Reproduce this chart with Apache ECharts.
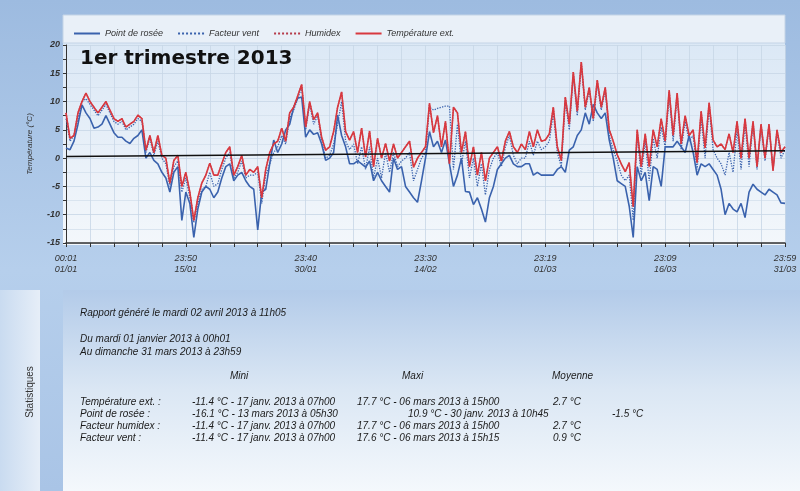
<!DOCTYPE html>
<html>
<head>
<meta charset="utf-8">
<script src="https://cdn.jsdelivr.net/npm/echarts@6/dist/echarts.min.js"></script>
<style>
  html, body { margin: 0; padding: 0; }
  body { background: linear-gradient(180deg, #9dbbe0 0%, #b6cfec 55%, #a9c4e6 100%); }
  #meteo { width: 800px; height: 491px; }
</style>
</head>
<body>
<div id="meteo"></div>
<script>
// valeurs relevées toutes les 12h, du 01/01 au 31/03
const temperature = [
  8, 3.5, 4, 8, 10, 11.5, 10, 9, 8, 9, 10, 8.5, 7, 6.5, 7, 5.5, 6, 6.5, 7.6, 7,
  1.4, 4, 1, 4, 0.5, 0, -4.4, -0.4, 0.5, -5, -2.5, -6, -11, -7, -4.4, -3, -0.9, -3, -3, -1,
  1, 2, -3, -1.5, 0.5, -3, -2, -2.5, -1.5, -7, -2, 1, 2.5, 3, 5.3, 3, 8, 9, 11, 13,
  5.5, 10, 6.8, 8, 3.7, 1.4, 2, 4.7, 9, 11.7, 4.7, 3.2, 4.7, 1, 5.3, 0.2, 4.8, -1.5, 3.5, 0,
  2.6, -0.5, 2.5, 0, 1, 2, 3, -1.6, 0, 1, 2, 9.7, 4.5, 7.5, 2, 6.5, -1, 9, 8, 1,
  4.7, -1.5, 2, -3, 1, -4, 0, 1, 2, -0.5, 3, 4.7, 2, 1, 2.5, 1.5, 4.7, 2, 5, 3,
  3.2, 4.3, 9, 2, -0.4, 10.8, 6, 15.2, 8.3, 17, 9, 12.5, 7, 13.8, 9, 12.5, 5, 3, 0.6, -1,
  -2.4, -0.8, -8.6, 5, -1.5, 4.3, -1.5, 5, 2, 7, 3, 12, 4, 11.5, 2.5, 7.5, 4, 5, -0.8, 8.3,
  1.8, 9.8, 3.2, 2, 2.5, 1.5, 4.3, 1, 6.5, 0, 7, 0, 6.5, -1.5, 6, 0, 6, -2.2, 5, 1, 2
];
const pointRosee = [
  1.8, 1.5, 3, 6, 9.4, 8, 7, 5.3, 5.5, 6, 7.5, 6, 4.5, 3.7, 3.7, 3, 2.6, 3.5, 4, 5,
  0, 1, -0.4, -1, -2.5, -3.5, -6, -2.5, -1.5, -11, -6, -8, -14, -9, -6, -5, -5.5, -7, -6, -3.5,
  -1.5, -1, -4, -3, -2.5, -4, -5, -5.5, -12.7, -6, -5.5, -1, 3.2, 1, 2.5, 5, 6, 9, 10.6, 10.8,
  3.7, 5, 4.2, 4.5, 2.5, -0.4, 0, 1, 7.6, 4, 2, -1, -1, -0.5, -1, -1.6, -0.5, -4, -2.5, -4,
  -5, -6, 0, -2, -1.5, -5, -6, -7, -7.8, -4, 0, 4.7, 2, 3, 1, 3.2, -1, -5, -3, 0,
  -5.9, -6, -8.2, -7, -9, -11.3, -7, -5, -2, -1, 0, 0.5, -1, -1.5, -1.5, -1, -1, -3, -2.5, -3,
  -3, -3, -3, -2, -1.5, -2.5, 1.4, 2, 4, 5, 8, 6, 9.5, 8, 7, 8, 3.2, 0, -4, -4.5,
  -5, -8.5, -14, -1.5, -4, -2.5, -7.5, -1.5, -2, -5, 2, 2, 2, 3, 2, 1, 4, 1, -3, -1,
  -1.5, -1, -2, -3, -5.5, -10, -8, -9, -9.5, -8, -10.5, -6, -4.6, -5.5, -6, -6.5, -5.5, -6, -6.5, -7.9, -8
];
const facteurVent = [
  7, 3, 4, 7, 10, 10.5, 9.5, 8.5, 7.5, 8.5, 9.5, 8, 6.5, 6, 6.5, 5, 5.5, 6, 7, 6.5,
  1, 3.5, 0.5, 3, 0, -1, -5, -1.5, -0.5, -6, -3.5, -7, -11.4, -8, -5.5, -5, -2.5, -5, -4.5, -2,
  0, 1, -3.5, -2.5, -0.5, -3.5, -3, -3, -2.5, -8, -3, -1, 1, 2, 4, 2.5, 7, 8.5, 10.5, 12.5,
  5, 9.5, 6, 7.5, 3, 0, 0.5, 2.5, 6, 10, 3, 1.5, 2.5, -1, 2, -2, 2, -3.5, 0, -3.5,
  1, -2.5, 1, -1.5, -0.5, 0, 1, -4, -2, 0, 1, 9, 8.5, 8.8, 9, 9.2, 9.2, -2, 6, -1,
  3, -3.5, 0, -5, -1, -6.5, -2, 0, 1, -1.5, 2, 4, 0.5, -1, 0, 0, 3, 0.5, 3, 1.5,
  2, 3, 8, 1, -1.5, 10, 5, 14.5, 7.5, 16.5, 8.5, 12, 6.5, 13, 8.5, 12, 4, 1.5, -0.5, -3,
  -4, -3, -11, 4, -3, 3, -4, 3.5, 0, 5.5, 2, 11, 3, 11, 1.5, 6.5, 3, 4, -2, 7,
  0, 9, 1.5, 0, -1, -3, 1, -2.5, 5, -2, 6, -1.5, 6, -2, 5.5, -0.5, 5.5, -2, 4.5, 0, 1.5
];
// l'humidex se confond avec la température sur tout le trimestre
const humidex = temperature;
const tendance = [0.3, 1.3];

const etiquettes = { 0: '00:01\n01/01', 30: '23:50\n15/01', 60: '23:40\n30/01', 90: '23:30\n14/02',
  120: '23:19\n01/03', 150: '23:09\n16/03', 180: '23:59\n31/03' };
const categories = temperature.map((v, i) => etiquettes[i] || String(i));

const lignesStats = [
  ['Température ext. :', '-11.4 °C - 17 janv. 2013 à 07h00', '17.7 °C - 06 mars 2013 à 15h00', '2.7 °C'],
  ['Point de rosée :', '-16.1 °C - 13 mars 2013 à 05h30', '10.9 °C - 30 janv. 2013 à 10h45', '-1.5 °C'],
  ['Facteur humidex :', '-11.4 °C - 17 janv. 2013 à 07h00', '17.7 °C - 06 mars 2013 à 15h00', '2.7 °C'],
  ['Facteur vent :', '-11.4 °C - 17 janv. 2013 à 07h00', '17.6 °C - 06 mars 2013 à 15h15', '0.9 °C']
];

var chart = echarts.init(document.getElementById('meteo'));

const txt = (x, y, s, extra) => ({
  type: 'text', left: x, top: y,
  style: Object.assign({ text: s, fill: '#1a1a1a', font: 'italic 10px "Liberation Sans", Arial' }, extra || {})
});

let graphics = [
  // cadre du graphique
  { type: 'rect', shape: { x: 63, y: 15, width: 722, height: 230 }, z: -10,
    style: { fill: new echarts.graphic.LinearGradient(0, 0, 0, 1, [
      { offset: 0, color: '#d8e6f5' }, { offset: 1, color: '#f3f7fb' }]) } },
  { type: 'rect', shape: { x: 63, y: 15, width: 722, height: 28 }, z: -9,
    style: { fill: '#e9f0f8', stroke: '#c4d4e6' } },
  // panneau statistiques
  { type: 'rect', shape: { x: 0, y: 290, width: 40, height: 201 }, z: -10,
    style: { fill: new echarts.graphic.LinearGradient(0, 0, 1, 0, [
      { offset: 0, color: '#c9dbf0' }, { offset: 1, color: '#e6eef8' }]) } },
  { type: 'rect', shape: { x: 63, y: 290, width: 737, height: 201 }, z: -10,
    style: { fill: new echarts.graphic.LinearGradient(0, 0, 0, 1, [
      { offset: 0, color: '#b3cbe9' }, { offset: 0.5, color: '#dbe7f4' }, { offset: 1, color: '#f4f8fc' }]) } },
  { type: 'text', x: 30, y: 392, rotation: Math.PI / 2, originX: 0, originY: 0,
    style: { text: 'Statistiques', fill: '#333', font: '10px "Liberation Sans", Arial', align: 'center', verticalAlign: 'middle' } },
  txt(80, 308, 'Rapport généré le mardi 02 avril 2013 à 11h05'),
  txt(80, 334, 'Du mardi 01 janvier 2013 à 00h01'),
  txt(80, 347, 'Au dimanche 31 mars 2013 à 23h59'),
  txt(230, 371, 'Mini'), txt(402, 371, 'Maxi'), txt(552, 371, 'Moyenne'),
  { type: 'text', left: 80, top: 49, z: 10,
    style: { text: '1er trimestre 2013', fill: '#111', font: 'bold 20px "DejaVu Sans", Verdana' } }
];
lignesStats.forEach((r, k) => {
  const y = 397 + k * 12;
  graphics.push(txt(80, y, r[0]));
  graphics.push(txt(192, y, r[1]));
  graphics.push(txt(k === 1 ? 408 : 357, y, r[2]));
  graphics.push(txt(k === 1 ? 612 : 553, y, r[3]));
});

option = {
  backgroundColor: 'transparent',
  animation: false,
  graphic: graphics,
  legend: {
    left: 68, top: 24, itemGap: 14, itemWidth: 26, itemHeight: 8,
    itemStyle: { opacity: 0 },
    textStyle: { fontSize: 9, fontStyle: 'italic', color: '#333', fontFamily: 'Liberation Sans' },
    data: ['Point de rosée', 'Facteur vent', 'Humidex', 'Température ext.']
  },
  grid: { left: 66, right: 15, top: 45, bottom: 248 },
  xAxis: {
    type: 'category', data: categories, boundaryGap: false,
    axisLine: { onZero: false, lineStyle: { color: '#333', width: 1.5 } },
    axisTick: { interval: 5, length: 4, lineStyle: { color: '#333' } },
    axisLabel: { interval: (i) => !!etiquettes[i], formatter: (v) => etiquettes[categories.indexOf(v)] || '',
      fontSize: 9, fontStyle: 'italic', color: '#333', lineHeight: 11, margin: 10 },
    splitLine: { show: true, interval: 5, lineStyle: { color: '#c6d5e6', width: 0.8 } }
  },
  yAxis: {
    type: 'value', min: -15, max: 20, interval: 5,
    name: 'Température (°C)', nameLocation: 'middle', nameGap: 32, nameRotate: 90,
    nameTextStyle: { fontSize: 8, fontStyle: 'italic', color: '#333' },
    axisLine: { show: true, lineStyle: { color: '#333' } },
    axisTick: { show: true, length: 3 },
    minorTick: { show: true, splitNumber: 2 },
    axisLabel: { fontSize: 9, fontStyle: 'italic', fontWeight: 'bold', color: '#333', margin: 6 },
    splitLine: { lineStyle: { color: '#c6d5e6', width: 0.8 } },
    minorSplitLine: { show: true, lineStyle: { color: '#d3dfec', width: 0.8 } }
  },
  series: [
    { name: 'Point de rosée', type: 'line', data: pointRosee, showSymbol: false, symbol: 'none', z: 3,
      itemStyle: { color: '#3a62ad' }, lineStyle: { color: '#3a62ad', width: 1.6 } },
    { name: 'Facteur vent', type: 'line', data: facteurVent, showSymbol: false, symbol: 'none', z: 2,
      itemStyle: { color: '#3a62ad' }, lineStyle: { color: '#3a62ad', width: 1.3, type: 'dotted' } },
    { name: 'Humidex', type: 'line', data: humidex, showSymbol: false, symbol: 'none', z: 4,
      itemStyle: { color: '#b53a4a' }, lineStyle: { color: '#b53a4a', width: 1.3, type: 'dotted' } },
    { name: 'Température ext.', type: 'line', data: temperature, showSymbol: false, symbol: 'none', z: 5,
      itemStyle: { color: '#d8383f' }, lineStyle: { color: '#d8383f', width: 1.6 } },
    { name: 'tendance', type: 'line', data: [[0, tendance[0]], [categories.length - 1, tendance[1]]],
      showSymbol: false, symbol: 'none', silent: true, z: 6, lineStyle: { color: '#111', width: 1.5 } }
  ]
};

chart.setOption(option);
</script>
</body>
</html>
